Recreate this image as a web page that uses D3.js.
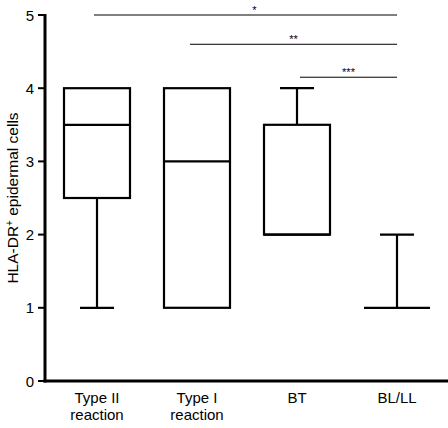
<!DOCTYPE html>
<html><head><meta charset="utf-8">
<script src="https://cdn.jsdelivr.net/npm/d3@7"></script>
<style>body{margin:0;background:#fff}text{font-family:"Liberation Sans",Arial,sans-serif}</style>
</head><body>
<svg id="c" width="448" height="428"></svg>
<script>
const categories = ["Type II reaction", "Type I reaction", "BT", "BL/LL"];
const labelLines = [["Type II", "reaction"], ["Type I", "reaction"], ["BT"], ["BL/LL"]];
const mins = [1, 1, 2, 1];
const q1s = [2.5, 1, 2, 1];
const medians = [3.5, 3, 2, 1];
const q3s = [4, 4, 3.5, 1];
const maxs = [4, 4, 4, 2];
const yTicks = [0, 1, 2, 3, 4, 5];
const sigFrom = [0, 1, 2];
const sigTo = [3, 3, 3];
const sigLevel = [5, 4.6, 4.15];
const sigLabels = ["*", "**", "***"];

const svg = d3.select("#c");
const x = d3.scaleBand().domain(categories).range([47, 447]).padding(0);
const y = d3.scaleLinear().domain([0, 5]).range([381, 15]);
const bw = 66, capW = 34;

// axes
svg.append("line").attr("x1", 45).attr("x2", 45).attr("y1", y(5) - 1).attr("y2", y(0) + 1.5)
  .attr("stroke", "#000").attr("stroke-width", 3);
svg.append("line").attr("x1", 43.5).attr("x2", 448).attr("y1", y(0)).attr("y2", y(0))
  .attr("stroke", "#000").attr("stroke-width", 3);
const yt = svg.append("g");
yTicks.forEach(t => {
  yt.append("line").attr("x1", 38).attr("x2", 45).attr("y1", y(t)).attr("y2", y(t))
    .attr("stroke", "#000").attr("stroke-width", 2);
  yt.append("text").attr("x", 34).attr("y", y(t) + 5.5).attr("text-anchor", "end")
    .attr("font-size", 15).text(t);
});
svg.append("text").attr("transform", `translate(18,${198}) rotate(-90)`).attr("text-anchor", "middle")
  .attr("font-size", 15.5).html('HLA-DR<tspan dy="-5" font-size="10">+</tspan><tspan dy="5"> epidermal cells</tspan>');

// x labels
categories.forEach((c, i) => {
  const cx = x(c) + x.bandwidth() / 2;
  labelLines[i].forEach((l, j) => {
    svg.append("text").attr("x", cx).attr("y", 403 + j * 17).attr("text-anchor", "middle")
      .attr("font-size", 15).text(l);
  });
});

// boxes
categories.forEach((c, i) => {
  const cx = x(c) + x.bandwidth() / 2;
  const g = svg.append("g").attr("stroke", "#000").attr("stroke-width", 2.2).attr("fill", "none");
  if (maxs[i] > q3s[i]) {
    g.append("line").attr("x1", cx).attr("x2", cx).attr("y1", y(maxs[i])).attr("y2", y(q3s[i]));
    g.append("line").attr("x1", cx - capW / 2).attr("x2", cx + capW / 2).attr("y1", y(maxs[i])).attr("y2", y(maxs[i]));
  }
  if (mins[i] < q1s[i]) {
    g.append("line").attr("x1", cx).attr("x2", cx).attr("y1", y(q1s[i])).attr("y2", y(mins[i]));
    g.append("line").attr("x1", cx - capW / 2).attr("x2", cx + capW / 2).attr("y1", y(mins[i])).attr("y2", y(mins[i]));
  }
  if (q3s[i] > q1s[i]) {
    g.append("rect").attr("x", cx - bw / 2).attr("y", y(q3s[i])).attr("width", bw)
      .attr("height", y(q1s[i]) - y(q3s[i]));
  }
  g.append("line").attr("x1", cx - bw / 2).attr("x2", cx + bw / 2).attr("y1", y(medians[i])).attr("y2", y(medians[i]));
});

// significance
sigFrom.forEach((f, i) => {
  const x1 = x(categories[f]) + x.bandwidth() / 2 - (i === 0 ? 3 : i === 1 ? 7 : -3);
  const x2 = x(categories[sigTo[i]]) + x.bandwidth() / 2;
  const yy = y(sigLevel[i]);
  svg.append("line").attr("x1", x1).attr("x2", x2).attr("y1", yy).attr("y2", yy)
    .attr("stroke", "#000").attr("stroke-width", 1);
  svg.append("text").attr("x", (x1 + x2) / 2 + (i === 0 ? 9 : 0)).attr("y", yy - 1).attr("text-anchor", "middle")
    .attr("font-size", 11).text(sigLabels[i]);
});
</script>
</body></html>
